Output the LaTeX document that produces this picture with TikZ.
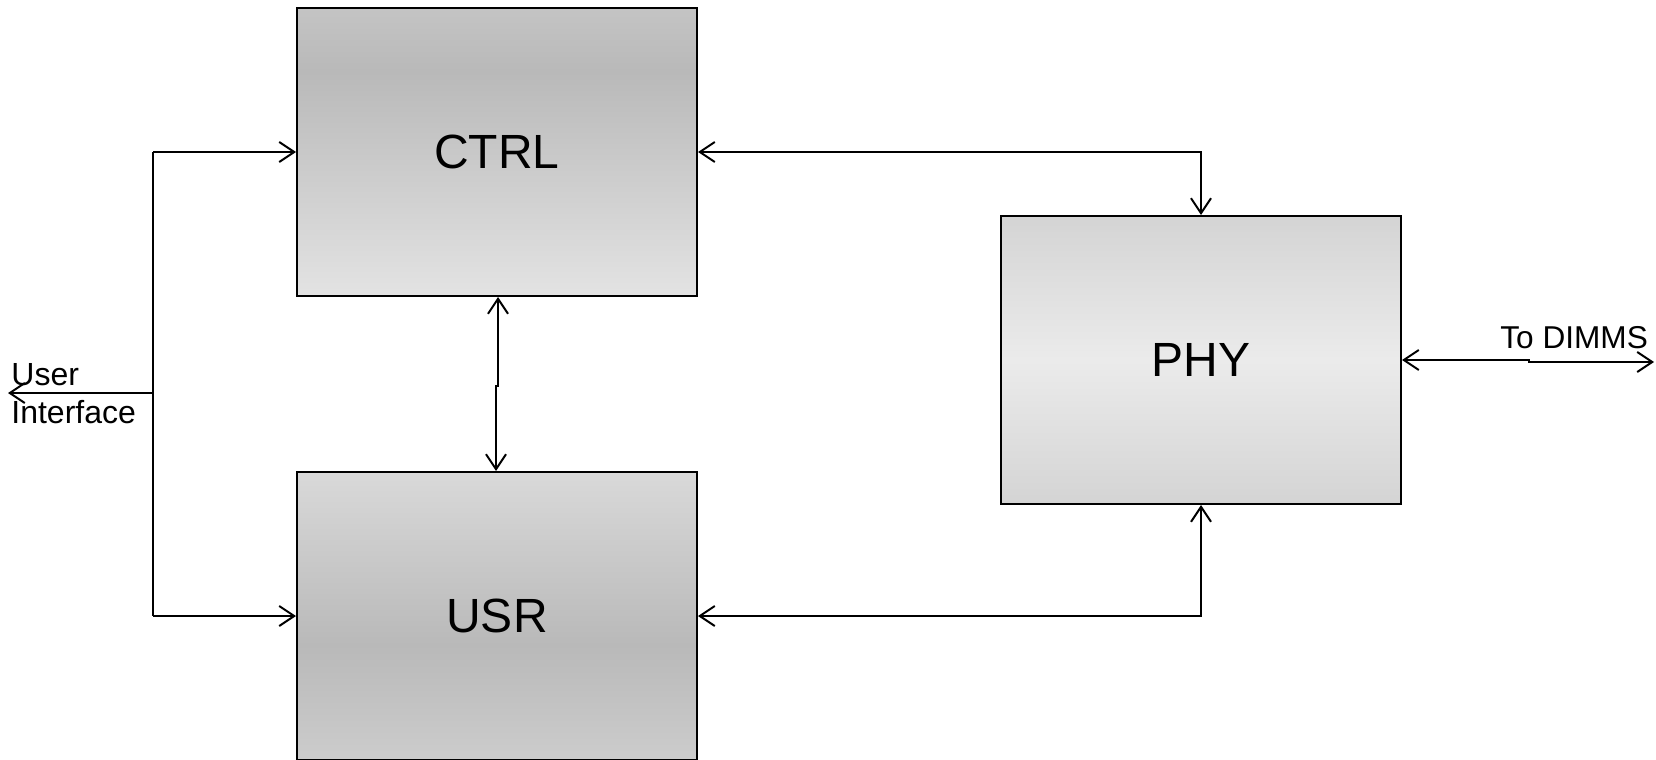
\documentclass[tikz,border=0pt]{standalone}
\usepackage{fontspec}
\setmainfont{Liberation Sans}
\usetikzlibrary{arrows.meta}
\definecolor{cA}{HTML}{C4C4C4}
\definecolor{cB}{HTML}{B9B9B9}
\definecolor{cC}{HTML}{E3E3E3}
\definecolor{uA}{HTML}{D9D9D9}
\definecolor{uC}{HTML}{CCCCCC}
\definecolor{pA}{HTML}{D4D4D4}
\definecolor{pB}{HTML}{EBEBEB}
\pgfdeclareverticalshading{ctrlshade}{100bp}{color(0bp)=(cC); color(25bp)=(cC); color(64bp)=(cB); color(75bp)=(cA); color(100bp)=(cA)}
\pgfdeclareverticalshading{usrshade}{100bp}{color(0bp)=(uC); color(25bp)=(uC); color(45bp)=(cB); color(75bp)=(uA); color(100bp)=(uA)}
\pgfdeclareverticalshading{physhade}{100bp}{color(0bp)=(pA); color(25bp)=(pA); color(50bp)=(pB); color(75bp)=(pA); color(100bp)=(pA)}
\begin{document}
\begin{tikzpicture}[x=0.5pt,y=-0.5pt,
  blockbox/.style={draw=black, line width=1pt, minimum width=200pt, minimum height=144pt, inner sep=0pt, font=\fontsize{24}{28}\selectfont},
  arr/.style={line width=1pt, -{Straight Barb[length=7.5pt,width=10pt]}},
  arrtwo/.style={line width=1pt, {Straight Barb[length=7.5pt,width=10pt]}-{Straight Barb[length=7.5pt,width=10pt]}},
  lbl/.style={inner sep=0pt, font=\fontsize{16}{19}\selectfont}
]
\useasboundingbox (0,0) rectangle (1656,760);
\node[blockbox, shading=ctrlshade] (CTRL) at (497,152) {CTRL};
\node[blockbox, shading=usrshade] (USR) at (497,616) {USR};
\node[blockbox, shading=physhade] (PHY) at (1201,360) {PHY};

\coordinate (busTop) at (153,152);
\coordinate (busBot) at (153,616);
\coordinate (uiTap) at (153,393);
\coordinate (uiEnd) at (8,393);
\draw[line width=1pt] (busTop) -- (busBot);
\draw[arr] (busTop) -- (CTRL.west);
\draw[arr] (busBot) -- (USR.west);
\draw[arr] (uiTap) -- (uiEnd);
\node[lbl, anchor=base west, align=left] (ui) at (11,423) {User\\Interface};

\draw[arrtwo] (CTRL.east) -| (PHY.north);
\draw[arrtwo] (USR.east) -| (PHY.south);
\draw[arrtwo] ([xshift=0.5pt]CTRL.south) -- ++(0,89) -- ++(-2,0) -- ([xshift=-0.5pt]USR.north);

\coordinate (dimmsEnd) at (1654,362);
\draw[arrtwo] (PHY.east) -- ++(127,0) -- ++(0,2) -- (dimmsEnd);
\node[lbl, font=\fontsize{15.8}{18}\selectfont, anchor=base west] (dimms) at (1500,348) {To DIMMS};
\end{tikzpicture}
\end{document}
